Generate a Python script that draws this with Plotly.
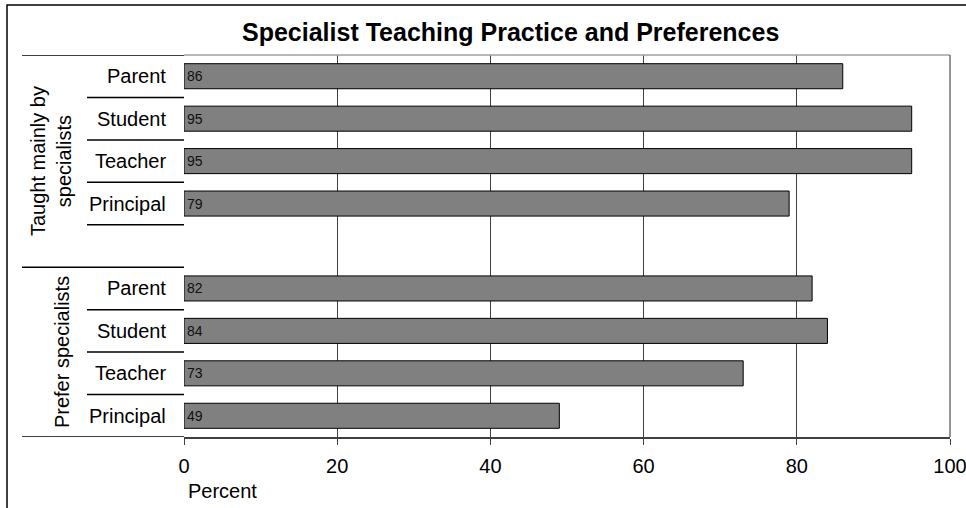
import plotly.graph_objects as go

# Rows from top to bottom; the empty row is the gap closing the first group
rows = ["Parent", "Student", "Teacher", "Principal", "",
        "Parent", "Student", "Teacher", "Principal"]
values = [86, 95, 95, 79, None, 82, 84, 73, 49]
# (label, first row index, last row index)
groups = [("Taught mainly by<br>specialists", 0, 4),
          ("Prefer specialists", 5, 8)]
x_ticks = [0, 20, 40, 60, 80, 100]

title = "Specialist Teaching Practice and Preferences"
x_title = "Percent"

W, H = 966, 508
L, R, T, B = 184, 16, 55, 71
PW, PH = W - L - R, H - T - B
FONT = "Liberation Sans, Arial, sans-serif"


def px_x(p):
    return (p - L) / PW


def px_y(p):
    return 1 - (p - T) / PH


pos = list(range(len(rows)))
bar_pos = [i for i, v in zip(pos, values) if v is not None]
bar_val = [v for v in values if v is not None]

fig = go.Figure(go.Bar(
    x=bar_val, y=bar_pos, orientation="h", width=0.59,
    marker=dict(color="#808080", line=dict(color="#000000", width=1)),
    text=[str(v) for v in bar_val], textposition="inside",
    insidetextanchor="start", textangle=0,
    textfont=dict(family=FONT, size=14, color="#111111"),
    hoverinfo="skip",
))

shapes = []
# category separators (short) and group separators (long)
group_edges = {g[1] - 0.5 for g in groups} | {g[2] + 0.5 for g in groups}
for k in range(len(rows) + 1):
    b = k - 0.5
    x0 = px_x(22) if b in group_edges else px_x(87)
    shapes.append(dict(type="line", xref="paper", yref="y", x0=x0, x1=0,
                       y0=b, y1=b, line=dict(color="#000000", width=1.5)))
# plot-area frame (top and right)
shapes.append(dict(type="line", xref="paper", yref="paper", x0=0, x1=1,
                   y0=1, y1=1, line=dict(color="#a0a0a0", width=1.5)))
shapes.append(dict(type="line", xref="paper", yref="paper", x0=1, x1=1,
                   y0=0, y1=1, line=dict(color="#707070", width=1.5)))
# chart border (left and top edges; the rest lies off the page)
shapes.append(dict(type="path", xref="paper", yref="paper",
                   path="M %f,%f L %f,%f L %f,%f" % (
                       px_x(7), px_y(508), px_x(7), px_y(5),
                       px_x(966), px_y(5)),
                   line=dict(color="#000000", width=1.5)))

annotations = [dict(text="<b>%s</b>" % title, xref="paper", yref="paper",
                    x=px_x(510), y=px_y(32), xanchor="center",
                    yanchor="middle", showarrow=False,
                    font=dict(family=FONT, size=25, color="#000000"))]
for i, r in enumerate(rows):
    if r:
        annotations.append(dict(text=r, xref="paper", yref="y", x=px_x(168),
                                y=i, xanchor="right", yanchor="middle",
                                showarrow=False,
                                font=dict(family=FONT, size=20, color="#000000")))
group_x = [51, 62]
for (g, a, b), gx in zip(groups, group_x):
    annotations.append(dict(text=g, xref="paper", yref="y", x=px_x(gx),
                            y=(a + b) / 2, textangle=-90, xanchor="center",
                            yanchor="middle", showarrow=False,
                            font=dict(family=FONT, size=20, color="#000000")))
annotations.append(dict(text=x_title, xref="paper", yref="paper",
                        x=px_x(222), y=px_y(491), xanchor="center",
                        yanchor="middle", showarrow=False,
                        font=dict(family=FONT, size=20, color="#000000")))

fig.update_layout(
    width=W, height=H, margin=dict(l=L, r=R, t=T, b=B), autosize=False,
    paper_bgcolor="#ffffff", plot_bgcolor="#ffffff",
    showlegend=False, shapes=shapes, annotations=annotations,
    xaxis=dict(range=[0, 100], tickvals=x_ticks, showgrid=True,
               automargin=False,
               gridcolor="#404040", gridwidth=1, zeroline=False,
               showline=True, linecolor="#404040", linewidth=1.5,
               ticks="outside", ticklen=6, tickcolor="#404040",
               ticklabeloverflow="allow", ticklabelstandoff=4,
               tickfont=dict(family=FONT, size=20, color="#000000")),
    yaxis=dict(range=[len(rows) - 0.5, -0.5], showticklabels=False,
               automargin=False,
               showgrid=False, zeroline=False, ticks=""),
)

fig.write_html("out.html", config={"responsive": False})
